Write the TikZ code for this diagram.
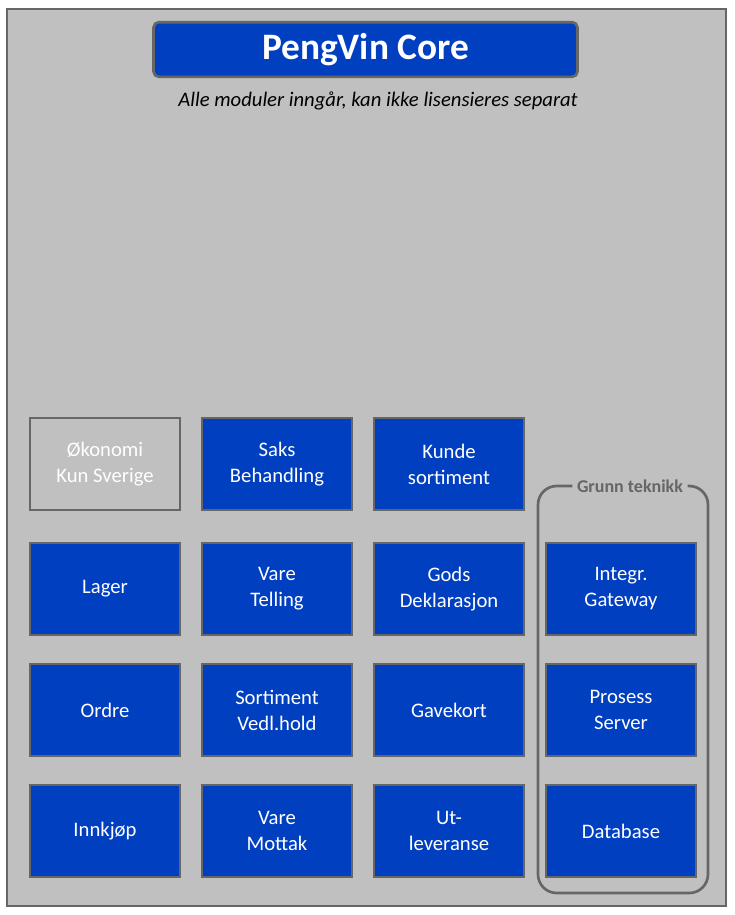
\documentclass[tikz,border=0pt]{standalone}
\usepackage{fontspec}
\setmainfont{Carlito}
\usetikzlibrary{positioning}
\definecolor{pvblue}{HTML}{0040C0}
\definecolor{pvgrey}{HTML}{C0C0C0}
\definecolor{pvedge}{HTML}{666666}
\tikzset{
  modul/.style={draw=pvedge, line width=2pt, fill=pvblue, text=white, minimum width=112.5pt, minimum height=69pt, align=center, font=\fontsize{15.5}{19.5}\selectfont},
  grmodul/.style={modul, fill=pvgrey},
}
\begin{document}
\begin{tikzpicture}[x=0.75pt,y=-0.75pt]
  \useasboundingbox (0,0) rectangle (735,915);
  \draw[pvedge, line width=1.5pt, fill=pvgrey] (7,9) rectangle (726,906);
  \node[draw=pvedge, line width=2pt, fill=pvblue, rounded corners=4pt, minimum width=318pt, minimum height=41pt, text=white, font=\fontsize{28}{32}\selectfont\bfseries] (title) at (365.5,49.5) {PengVin Core};
  \node[font=\fontsize{15.5}{18}\selectfont\itshape] (sub) at (378,101) {Alle moduler inngår, kan ikke lisensieres separat};
  % grunn teknikk bracket
  \node[text=pvedge, font=\fontsize{13.5}{16}\selectfont\bfseries] (grunn) at (630,486) {Grunn teknikk};
  \draw[pvedge, line width=2pt, rounded corners=14pt] (grunn.west) -| (538,893) -| (708,486) -- (grunn.east);
  % modules
  \node[grmodul] (okonomi) at (105,464) {Økonomi\\Kun Sverige};
  \node[modul] (saks) at (277,464) {Saks\\Behandling};
  \node[modul] (kunde) at (449,464) {Kunde\\sortiment};
  \node[modul] (lager) at (105,589) {Lager};
  \node[modul] (telling) at (277,589) {Vare\\Telling};
  \node[modul] (gods) at (449,589) {Gods\\Deklarasjon};
  \node[modul] (gateway) at (621,589) {Integr.\\Gateway};
  \node[modul] (ordre) at (105,710) {Ordre};
  \node[modul] (sortiment) at (277,710) {Sortiment\\Vedl.hold};
  \node[modul] (gavekort) at (449,710) {Gavekort};
  \node[modul] (prosess) at (621,710) {Prosess\\Server};
  \node[modul] (innkjop) at (105,831) {Innkjøp};
  \node[modul] (mottak) at (277,831) {Vare\\Mottak};
  \node[modul] (utlev) at (449,831) {Ut-\\leveranse};
  \node[modul] (database) at (621,831) {Database};
\end{tikzpicture}
\end{document}
